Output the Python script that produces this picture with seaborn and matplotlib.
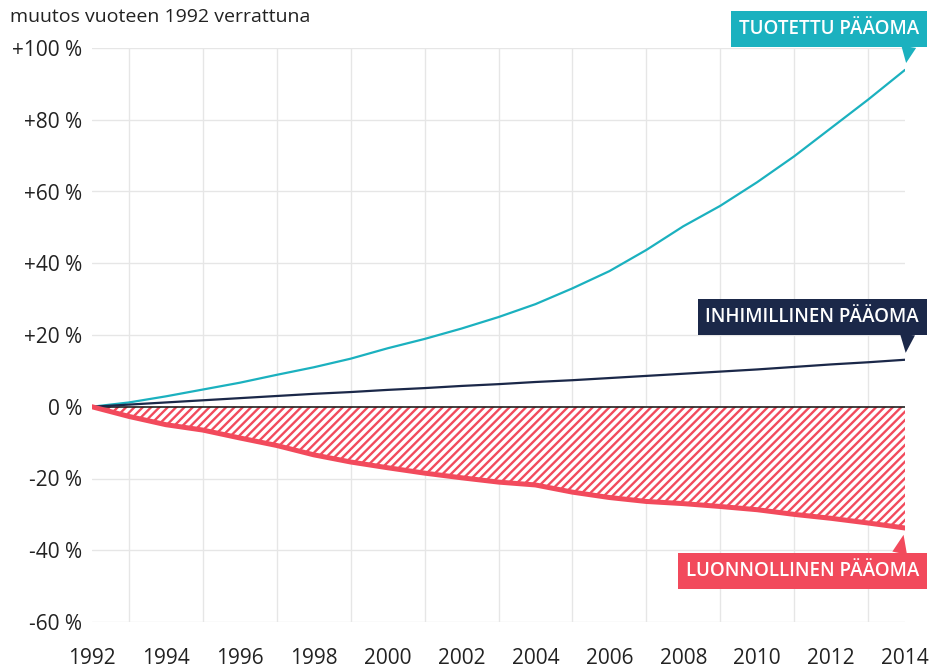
import numpy as np
import pandas as pd
import matplotlib
matplotlib.use("Agg")
import matplotlib.pyplot as plt
import seaborn as sns

# Data (change vs 1992, %)
years = list(range(1992, 2015))
tuotettu = [0, 1.2, 2.9, 4.8, 6.7, 8.9, 11.0, 13.4, 16.3, 18.9, 21.8, 25.0, 28.6,
            33.0, 37.8, 43.7, 50.3, 56.0, 62.6, 69.8, 77.7, 85.6, 93.9]
inhimillinen = [0, 0.6, 1.2, 1.8, 2.4, 3.0, 3.6, 4.1, 4.7, 5.2, 5.8, 6.3, 6.9,
                7.4, 8.0, 8.6, 9.2, 9.8, 10.4, 11.1, 11.8, 12.4, 13.1]
luonnollinen = [0, -2.7, -5.0, -6.5, -8.7, -10.8, -13.4, -15.4, -17.0, -18.5, -19.8, -21.0, -21.8,
                -23.8, -25.3, -26.4, -27.0, -27.8, -28.7, -30.0, -31.1, -32.4, -33.8]

series_names = ["TUOTETTU PÄÄOMA", "INHIMILLINEN PÄÄOMA", "LUONNOLLINEN PÄÄOMA"]
y_ticks = [100, 80, 60, 40, 20, 0, -20, -40, -60]
y_labels = ["+100 %", "+80 %", "+60 %", "+40 %", "+20 %", "0 %", "-20 %", "-40 %", "-60 %"]
x_ticks = list(range(1992, 2015, 2))

TEAL = "#1bb1bf"
NAVY = "#1b2849"
RED = "#f24a5c"

sns.set_theme(style="white")
plt.rcParams["font.family"] = ["Open Sans", "DejaVu Sans"]
plt.rcParams["hatch.linewidth"] = 1.7

df = pd.DataFrame({"year": years, "tuotettu": tuotettu,
                   "inhimillinen": inhimillinen, "luonnollinen": luonnollinen})

fig = plt.figure(figsize=(9.31, 6.69), dpi=100)
ax = fig.add_axes([92 / 931, 1 - 622 / 669, (905 - 92) / 931, (622 - 48) / 669])

# grid
ax.set_xticks(years, minor=True)
ax.grid(True, which="minor", axis="x", color="#e6e6e6", linewidth=1)
ax.grid(True, which="major", axis="y", color="#e6e6e6", linewidth=1)
ax.set_axisbelow(True)

# hatched area for natural capital
ax.fill_between(df["year"], df["luonnollinen"], 0, facecolor="white",
                edgecolor=RED, hatch="////", linewidth=0, zorder=1)
ax.axhline(0, color="#222222", linewidth=1.2, zorder=2)

sns.lineplot(data=df, x="year", y="tuotettu", ax=ax, color=TEAL, linewidth=1.6, zorder=3)
sns.lineplot(data=df, x="year", y="inhimillinen", ax=ax, color=NAVY, linewidth=1.6, zorder=3)
sns.lineplot(data=df, x="year", y="luonnollinen", ax=ax, color=RED, linewidth=3.6, zorder=4,
             solid_capstyle="round")

ax.set_xlim(1992, 2014)
ax.set_ylim(-60, 100)
ax.set_yticks(y_ticks)
ax.set_yticklabels(y_labels)
ax.set_xticks(x_ticks)
ax.set_xticklabels([str(y) for y in x_ticks])
ax.tick_params(axis="both", which="both", length=0, labelsize=15, colors="#222222")
ax.tick_params(axis="y", pad=7)
ax.tick_params(axis="x", pad=19)
ax.set_xlabel("")
ax.set_ylabel("")
for s in ax.spines.values():
    s.set_visible(False)

fig.text(10 / 931, 1 - 17 / 669, "muutos vuoteen 1992 verrattuna", fontsize=14,
         color="#222222", va="center", ha="left")

# callout labels
callouts = [
    (series_names[0], tuotettu[-1], TEAL, 41, (0.95, 0)),
    (series_names[1], inhimillinen[-1], NAVY, 43, (0.95, 0)),
    (series_names[2], luonnollinen[-1], RED, -43, (0.91, 1)),
]
for label, yval, col, dy, rel in callouts:
    ax.annotate(label, xy=(years[-1], yval), xytext=(14, dy), textcoords="offset pixels",
                ha="right", va="center", color="white", fontsize=13.5, fontweight="semibold",
                bbox=dict(boxstyle="square,pad=0.42", fc=col, ec="none"),
                arrowprops=dict(arrowstyle="wedge,tail_width=0.8", fc=col, ec="none",
                                relpos=rel, shrinkA=0, shrinkB=5),
                annotation_clip=False, zorder=6)

fig.savefig("out.png", dpi=100)
